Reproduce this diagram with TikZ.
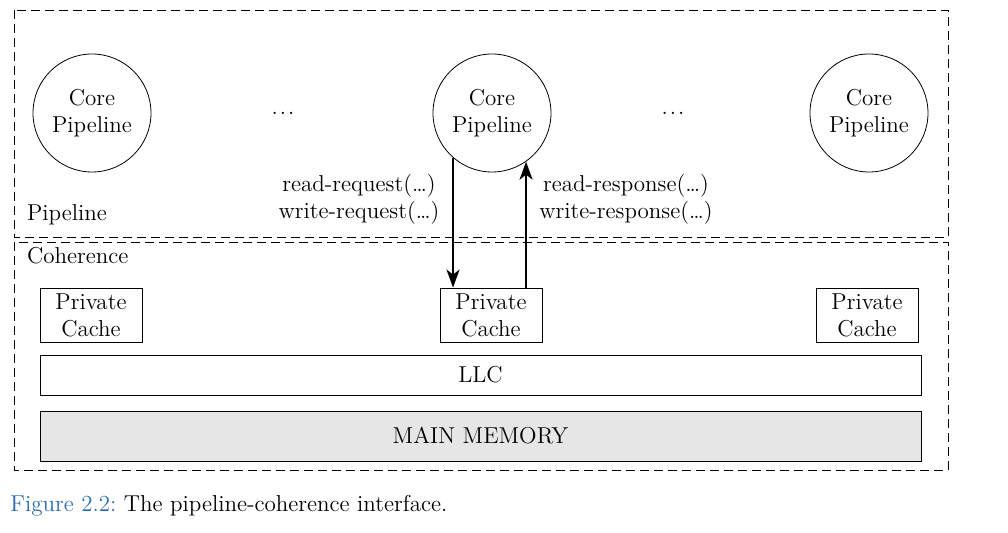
\documentclass[tikz,border=0pt]{standalone}
\usepackage{tikz}
\usetikzlibrary{arrows.meta}
\definecolor{figblue}{RGB}{42,110,176}
\definecolor{memgray}{RGB}{230,230,230}

\begin{document}
\begin{tikzpicture}[x=0.5pt,y=-0.5pt,font=\fontsize{11.5}{13.5}\selectfont]

    \useasboundingbox (0,0) rectangle (1008,533);

    % The two dashed regions
    \draw[dash pattern=on 4.5pt off 2.5pt] (14,10) rectangle (948,237);
    \draw[dash pattern=on 4.5pt off 2.5pt] (14,242) rectangle (948,470);
    \node[anchor=base west] (pipe) at (20,221) {Pipeline};
    \node[anchor=base west] (coh) at (20,264) {Coherence};

    % Place the core pipelines
    \node[circle,draw=black,minimum size=59pt,inner sep=0pt,align=center] (c1) at (92,113) {Core\\Pipeline};
    \node[circle,draw=black,minimum size=59pt,inner sep=0pt,align=center] (c2) at (492,113) {Core\\Pipeline};
    \node[circle,draw=black,minimum size=59pt,inner sep=0pt,align=center] (c3) at (869,113) {Core\\Pipeline};
    \node (d1) at (283,113) {.\kern1pt.\kern1pt.};
    \node (d2) at (673,113) {.\kern1pt.\kern1pt.};

    % Place the caches and the memory
    \node[draw=black,minimum width=51pt,minimum height=27pt,inner sep=0pt,align=center] (p1) at (91,315) {Private\\Cache};
    \node[draw=black,minimum width=51pt,minimum height=27pt,inner sep=0pt,align=center] (p2) at (491,315) {Private\\Cache};
    \node[draw=black,minimum width=51pt,minimum height=27pt,inner sep=0pt,align=center] (p3) at (867,315) {Private\\Cache};
    \node[draw=black,minimum width=440.5pt,minimum height=20pt,inner sep=0pt] (llc) at (480.5,375) {LLC};
    \node[draw=black,fill=memgray,minimum width=440.5pt,minimum height=25pt,inner sep=0pt] (mem) at (480.5,436) {MAIN MEMORY};

    % Draw the requests and responses
    \draw[line width=1pt,-{Stealth[length=9pt,width=6.5pt,inset=2.5pt]}] (c2.229) -- (c2.229 |- p2.north);
    \draw[line width=1pt,-{Stealth[length=9pt,width=6.5pt,inset=2.5pt]}] (c2.305 |- p2.north) -- (c2.305);
    \node[align=center] (req) at (359,199) {read-request(\dots)\\write-request(\dots)};
    \node[align=center] (resp) at (626,199) {read-response(\dots)\\write-response(\dots)};

    % Caption
    \node[anchor=base west,inner sep=0pt] (cap) at (10,512) {{\color{figblue}Figure 2.2:}\ The pipeline-coherence interface.};

\end{tikzpicture}
\end{document}
